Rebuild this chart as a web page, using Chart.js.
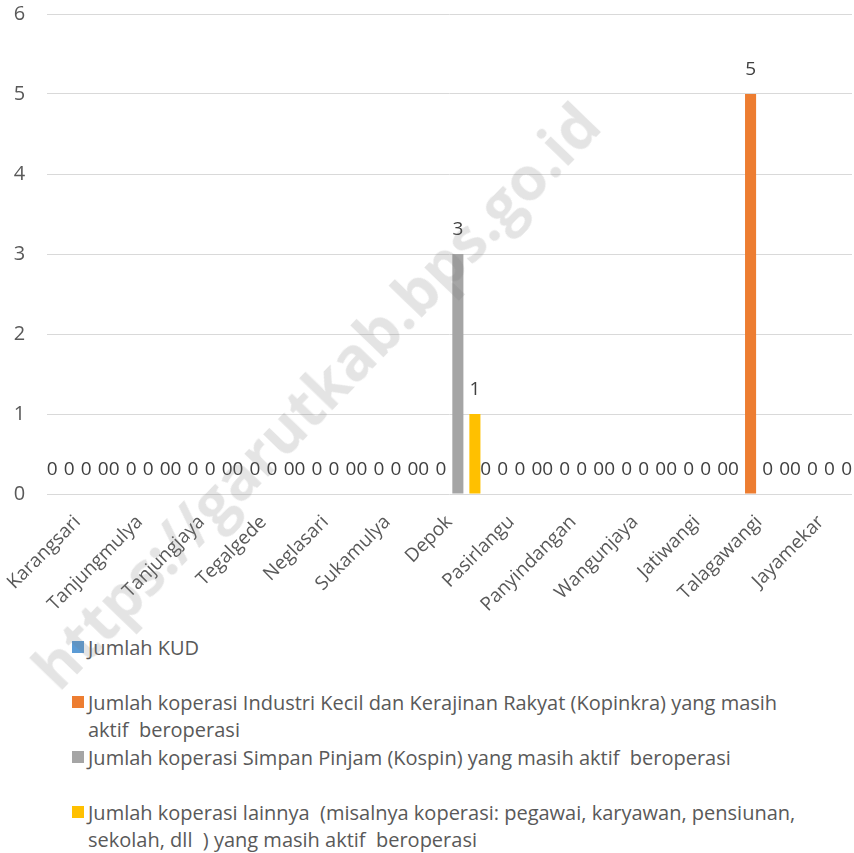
<!DOCTYPE html>
<html>
<head>
<meta charset="utf-8">
<script src="https://cdn.jsdelivr.net/npm/chart.js@4/dist/chart.umd.min.js"></script>
<style>
  body { margin: 0; background: #fff; font-family: "Open Sans", sans-serif; }
  #wrap { position: relative; width: 854px; height: 853px; overflow: hidden; }
  #box { position: absolute; left: 0; top: 0; width: 854px; height: 630px; }
  #legend { position: absolute; left: 72px; top: 634px; width: 738px; color: #595959; font-size: 20px; }
  .item { height: 55px; line-height: 27px; position: relative; padding-left: 16px; white-space: pre-wrap; }
  .item span { position: absolute; left: 0; top: 7px; width: 12px; height: 12px; }
  #mark { position: absolute; left: 315px; top: 395px; transform: translate(-50%, -50%) rotate(-46deg);
          font: bold 60px "Open Sans", sans-serif; color: rgba(120,120,120,0.2); white-space: nowrap; pointer-events: none; }
</style>
</head>
<body>
<div id="wrap">
  <div id="box"><canvas id="chart" width="854" height="630"></canvas></div>
  <div id="legend"></div>
  <div id="mark">https://garutkab.bps.go.id</div>
</div>
<script>
const desa = ["Karangsari", "Tanjungmulya", "Tanjungjaya", "Tegalgede", "Neglasari", "Sukamulya",
  "Depok", "Pasirlangu", "Panyindangan", "Wangunjaya", "Jatiwangi", "Talagawangi", "Jayamekar"];

const kud      = [0, 0, 0, 0, 0, 0, 0, 0, 0, 0, 0, 0, 0];
const kopinkra = [0, 0, 0, 0, 0, 0, 0, 0, 0, 0, 0, 5, 0];
const kospin   = [0, 0, 0, 0, 0, 0, 3, 0, 0, 0, 0, 0, 0];
const lainnya  = [0, 0, 0, 0, 0, 0, 1, 0, 0, 0, 0, 0, 0];

const seriesNames = [
  "Jumlah KUD",
  "Jumlah koperasi Industri Kecil dan Kerajinan Rakyat (Kopinkra) yang masih aktif  beroperasi",
  "Jumlah koperasi Simpan Pinjam (Kospin) yang masih aktif  beroperasi",
  "Jumlah koperasi lainnya  (misalnya koperasi: pegawai, karyawan, pensiunan, sekolah, dll  ) yang masih aktif  beroperasi"
];
const colors = ["#5b9bd5", "#ed7d31", "#a5a5a5", "#ffc000"];
const yTicks = [0, 1, 2, 3, 4, 5, 6];

// value labels above each bar, Excel style
const valueLabels = {
  id: "valueLabels",
  afterDatasetsDraw(chart) {
    const ctx = chart.ctx;
    ctx.save();
    ctx.font = "19px 'Open Sans'";
    ctx.fillStyle = "#404040";
    ctx.textAlign = "center";
    ctx.textBaseline = "middle";
    chart.data.datasets.forEach((ds, i) => {
      chart.getDatasetMeta(i).data.forEach((bar, j) => {
        ctx.fillText(String(ds.data[j]), bar.x, bar.y - 24);
      });
    });
    ctx.restore();
  }
};

const chart = new Chart(document.getElementById("chart"), {
  type: "bar",
  data: {
    labels: desa,
    datasets: [kud, kopinkra, kospin, lainnya].map((d, i) => ({
      label: seriesNames[i],
      data: d,
      backgroundColor: colors[i],
      categoryPercentage: 1.1,
      barPercentage: 0.65
    }))
  },
  options: {
    responsive: false,
    animation: false,
    layout: { padding: { top: 14, right: 2, left: 12, bottom: 0 } },
    plugins: { legend: { display: false }, tooltip: { enabled: false } },
    scales: {
      x: {
        grid: { display: false },
        border: { display: false },
        ticks: {
          autoSkip: false, maxRotation: 45, minRotation: 45, padding: 9,
          color: "#595959", font: { family: "Open Sans", size: 19 }
        },
        afterFit: s => { s.height = 136; }
      },
      y: {
        min: 0, max: 6,
        afterBuildTicks: s => { s.ticks = yTicks.map(v => ({ value: v })); },
        grid: { color: "#d9d9d9", drawTicks: false },
        border: { display: false },
        ticks: { padding: 0, crossAlign: "far", color: "#595959", font: { family: "Open Sans", size: 20 } },
        afterFit: s => { s.width = 33; }
      }
    }
  },
  plugins: [valueLabels]
});

// legend built from the chart's datasets
const legend = document.getElementById("legend");
chart.data.datasets.forEach(ds => {
  const div = document.createElement("div");
  div.className = "item";
  const sq = document.createElement("span");
  sq.style.background = ds.backgroundColor;
  div.appendChild(sq);
  div.appendChild(document.createTextNode(ds.label));
  legend.appendChild(div);
});
</script>
</body>
</html>
